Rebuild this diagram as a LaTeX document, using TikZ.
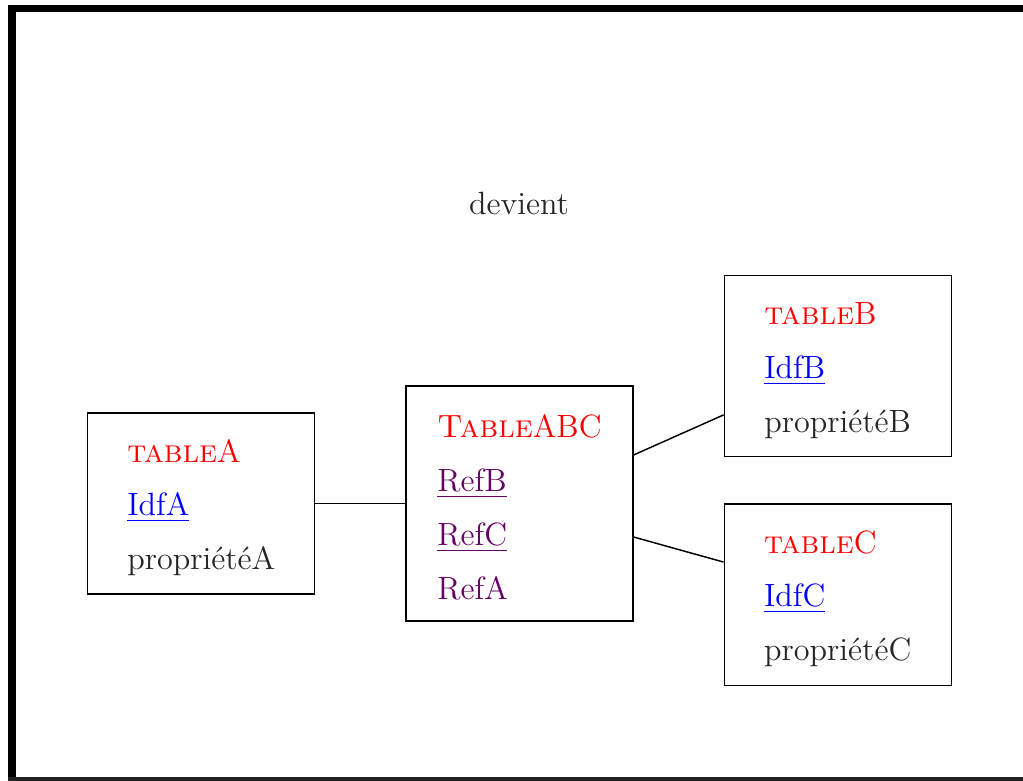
\documentclass[tikz,border=0pt]{standalone}
\usepackage{tikz}
\usetikzlibrary{positioning}
\definecolor{refcol}{RGB}{102,0,102}
\definecolor{bandcol}{RGB}{34,34,34}

\begin{document}
\begin{tikzpicture}[
    node distance=1.08cm,
    every node/.style={font=\fontsize{11}{18.4}\selectfont, text=black!85},
    tablebox/.style={rectangle, draw=black, align=left, inner sep=0pt, minimum width=2.724cm, minimum height=2.172cm},
    jointbox/.style={tablebox, minimum height=2.82cm},
    link/.style={draw=black, line width=0.5pt}
]

\useasboundingbox (0,0) rectangle (12.276,-9.372);

% slide frame
\fill[black] (0.096,-0.06) rectangle (12.276,-0.144);
\fill[black] (0.096,-0.06) rectangle (0.192,-9.372);
\fill[bandcol] (0.096,-9.324) rectangle (12.276,-9.372);

\node (dev) at (6.228,-2.436) {devient};

\node[jointbox] (abc) at (6.234,-6.042) {
\rule{0pt}{10.6pt}{\color{red}\textsc{Table}ABC}\\
{\color{refcol}\underline{RefB}}\\
{\color{refcol}\underline{RefC}}\\
{\color{refcol}RefA}
};

\node[tablebox, left=of abc] (ta) {
\rule{0pt}{10.6pt}{\color{red}\textsc{table}A}\\
{\color{blue}\underline{IdfA}}\\
propriétéA
};

\node[tablebox, anchor=north west] (tc) at ([xshift=1.08cm]abc.east) {
\rule{0pt}{10.6pt}{\color{red}\textsc{table}C}\\
{\color{blue}\underline{IdfC}}\\
propriétéC
};

\node[tablebox, above=0.552cm of tc] (tb) {
\rule{0pt}{10.6pt}{\color{red}\textsc{table}B}\\
{\color{blue}\underline{IdfB}}\\
propriétéB
};

\draw[link] (ta) -- (abc);
\draw[link] ([yshift=0.582cm]abc.east) -- ([yshift=-0.582cm]tb.west);
\draw[link] ([yshift=-0.402cm]abc.east) -- ([yshift=0.39cm]tc.west);

\end{tikzpicture}
\end{document}
